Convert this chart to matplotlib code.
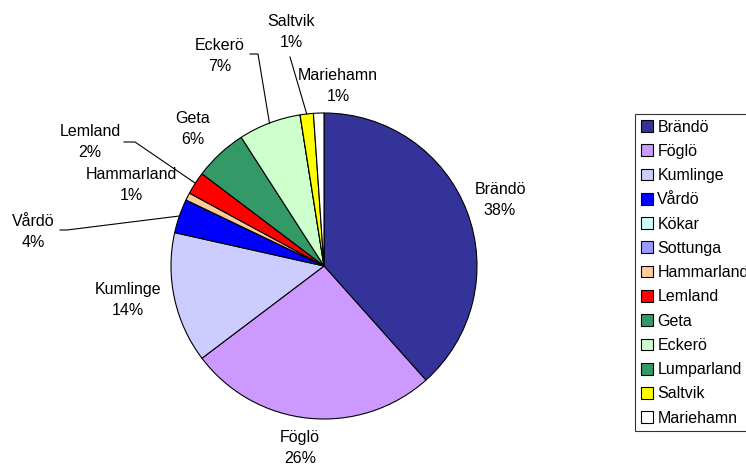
import numpy as np
import matplotlib
matplotlib.use("Agg")
import matplotlib.pyplot as plt

W, H = 746, 465

names = ["Brändö", "Föglö", "Kumlinge", "Vårdö", "Kökar", "Sottunga",
         "Hammarland", "Lemland", "Geta", "Eckerö", "Lumparland",
         "Saltvik", "Mariehamn"]
shares = [38.4, 26.3, 13.8, 3.6, 0.0, 0.0, 0.8, 2.4, 5.6, 6.6, 0.0, 1.4, 1.1]
colors = ["#333399", "#CC99FF", "#CCCCFF", "#0000FF", "#CCFFFF", "#9999FF",
          "#FFCC99", "#FF0000", "#339966", "#CCFFCC", "#339966",
          "#FFFF00", "#FFFFFF"]

# label centres in pixels (x, y from top), placed like the original
label_pos = {
    "Brändö": (500, 200), "Föglö": (300, 448), "Kumlinge": (128, 300),
    "Vårdö": (33, 232), "Hammarland": (131, 185), "Lemland": (90, 142),
    "Geta": (193, 129), "Eckerö": (220, 56), "Saltvik": (291, 32),
    "Mariehamn": (338, 86),
}
# leader line start points (pixels from top)
leaders = {
    "Eckerö": [(250, 54), (258, 54)],
    "Saltvik": [(290, 57)],
    "Lemland": [(124, 142), (135, 142)],
    "Vårdö": [(60, 230), (67, 230)],
}

plt.rcParams["font.family"] = ["Liberation Sans", "DejaVu Sans"]
FS = 11.5

fig = plt.figure(figsize=(W / 100, H / 100), dpi=100)
ax = fig.add_axes([0, 0, 1, 1])
ax.axis("off")

cx, cy, r = 324, H - 266, 153
wedges, _ = ax.pie(shares, colors=colors, startangle=90, counterclock=False,
                   center=(cx, cy), radius=r, normalize=True,
                   wedgeprops=dict(edgecolor="black", linewidth=0.8))
ax.set_xlim(0, W)
ax.set_ylim(0, H)
ax.set_aspect("equal")

total = sum(shares)
for w, name, v in zip(wedges, names, shares):
    if v <= 0:
        continue
    x, y = label_pos[name]
    ax.text(x, H - y, f"{name}\n{v / total * 100:.0f}%", ha="center", va="center",
            fontsize=FS, linespacing=1.45)
    if name in leaders:
        mid = np.deg2rad((w.theta1 + w.theta2) / 2)
        pts = [(px, H - py) for px, py in leaders[name]]
        pts.append((cx + r * np.cos(mid), cy + r * np.sin(mid)))
        xs, ys = zip(*pts)
        ax.plot(xs, ys, color="black", linewidth=0.8)

leg = ax.legend(wedges, names, loc="upper left",
                bbox_to_anchor=(635 / W, 1 - 114 / H), bbox_transform=fig.transFigure,
                fontsize=FS, frameon=True, fancybox=False, shadow=False,
                handlelength=0.75, handleheight=0.75, handletextpad=0.3,
                labelspacing=0.58, borderpad=0.35, borderaxespad=0)
leg.get_frame().set_edgecolor("black")
leg.get_frame().set_linewidth(0.8)

fig.savefig("out.png", dpi=100)
